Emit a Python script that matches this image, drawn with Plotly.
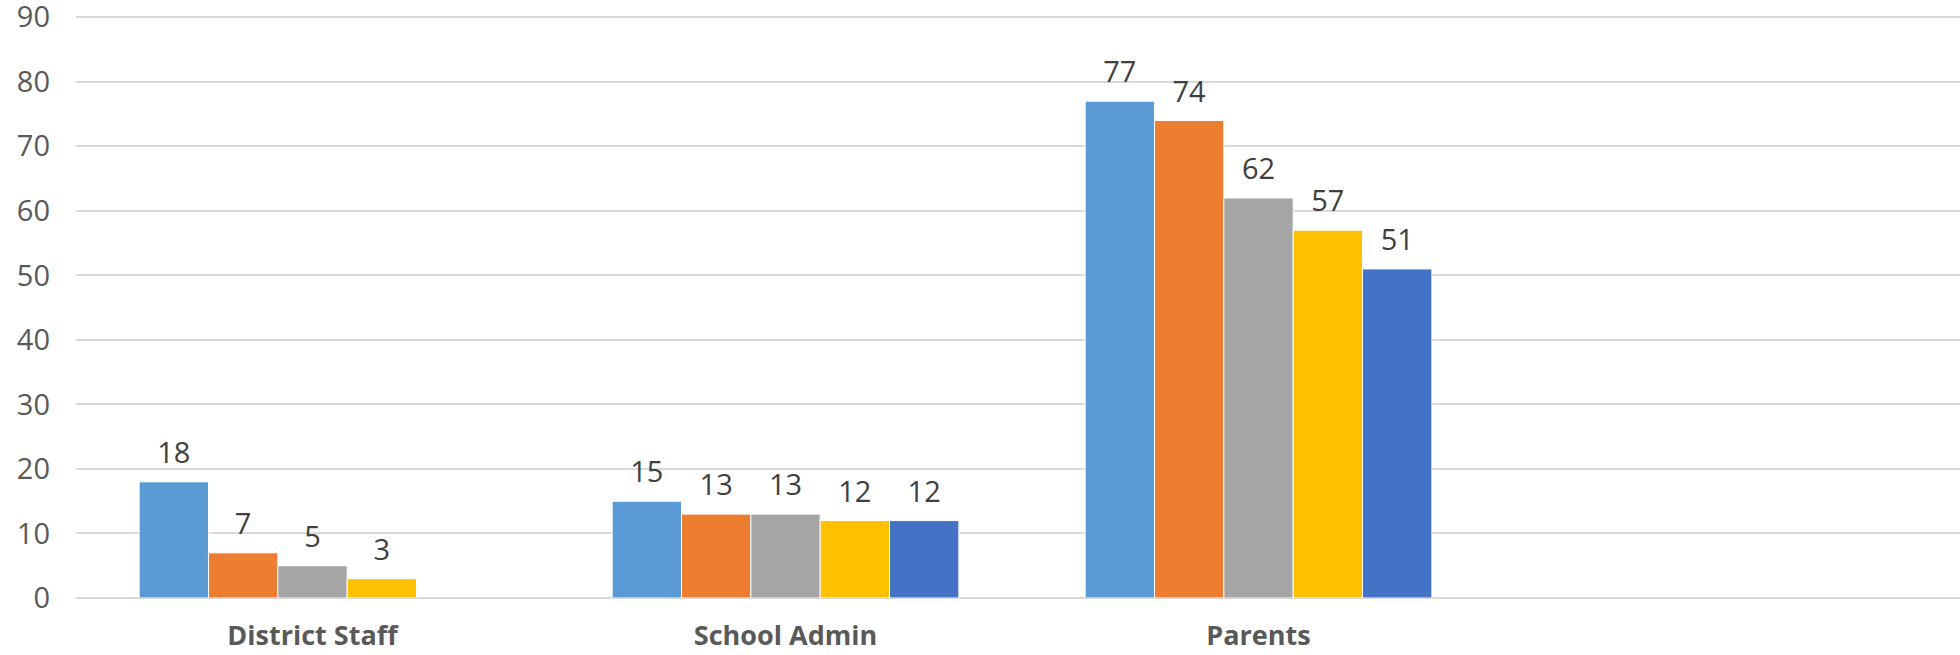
import plotly.graph_objects as go

categories = ["District Staff", "School Admin", "Parents"]
series_names = ["Series 1", "Series 2", "Series 3", "Series 4", "Series 5"]
series_values = [
    [18, 15, 77],
    [7, 13, 74],
    [5, 13, 62],
    [3, 12, 57],
    [None, 12, 51],
]
colors = ["#5B9BD5", "#ED7D31", "#A5A5A5", "#FFC000", "#4472C4"]
y_ticks = [0, 10, 20, 30, 40, 50, 60, 70, 80, 90]

FONT = "Open Sans"
NUM_SIZE = 29
SPACER = 10

fig = go.Figure()
for name, vals, col in zip(series_names, series_values, colors):
    fig.add_trace(go.Bar(
        name=name,
        x=categories,
        y=vals,
        marker=dict(color=col, line=dict(color="white", width=1)),
        text=[("" if v is None else
               f"<span style='font-size:{NUM_SIZE}px'>{v}</span><br> ")
              for v in vals],
        textposition="outside",
        textfont=dict(family=FONT, size=SPACER, color="#404040"),
        constraintext="none",
        cliponaxis=False,
    ))

fig.update_layout(
    width=1960,
    height=655,
    barmode="group",
    bargap=0.267,
    bargroupgap=0,
    showlegend=False,
    plot_bgcolor="white",
    paper_bgcolor="white",
    margin=dict(l=76, r=0, t=16, b=57, autoexpand=False),
    font=dict(family=FONT, color="#595959"),
    xaxis=dict(
        type="category",
        categoryorder="array",
        categoryarray=categories,
        range=[-0.5, 3.483],
        automargin=False,
        showgrid=False,
        showline=False,
        ticks="",
        ticklabelstandoff=19,
        tickfont=dict(family=FONT, size=27, color="#595959", weight="bold"),
    ),
    yaxis=dict(
        range=[0, 90.2],
        tickvals=y_ticks,
        automargin=False,
        showgrid=True,
        gridcolor="#D9D9D9",
        gridwidth=2,
        zeroline=True,
        zerolinecolor="#D9D9D9",
        zerolinewidth=2,
        showline=False,
        ticks="",
        ticklabelstandoff=25,
        ticklabeloverflow="allow",
        tickfont=dict(family=FONT, size=NUM_SIZE, color="#595959"),
    ),
)

fig.write_html(
    "out.html",
    config={"displayModeBar": False},
    post_script="document.body.style.margin='0';",
)
